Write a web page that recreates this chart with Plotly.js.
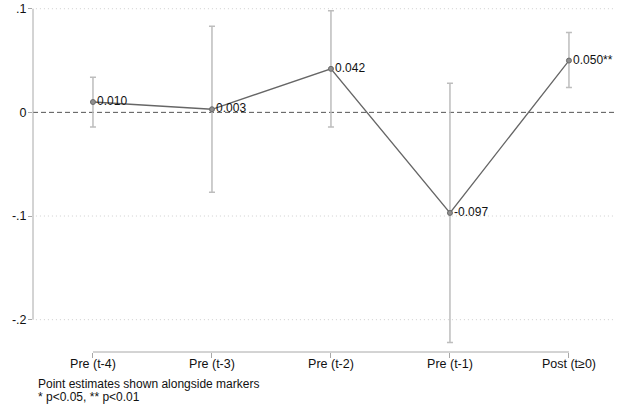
<!DOCTYPE html>
<html>
<head>
<meta charset="utf-8">
<script src="https://cdn.plot.ly/plotly-3.0.1.min.js"></script>
<style>html,body{margin:0;padding:0;background:#fff;}#chart{width:626px;height:408px;}</style>
</head>
<body>
<div id="chart"></div>
<script>
const categories = ["Pre (t-4)", "Pre (t-3)", "Pre (t-2)", "Pre (t-1)", "Post (t\u22650)"];
const estimates = [0.010, 0.003, 0.042, -0.097, 0.050];
const ciLow = [-0.014, -0.077, -0.014, -0.222, 0.024];
const ciHigh = [0.034, 0.083, 0.098, 0.028, 0.077];
const pointLabels = ["0.010", "0.003", "0.042", "-0.097", "0.050**"];
const yTickVals = [-0.2, -0.1, 0, 0.1];
const yTickText = ["-.2", "-.1", "0", ".1"];
const footnotes = ["Point estimates shown alongside markers", "* p<0.05, ** p<0.01"];

const idx = categories.map((c, i) => i);
const errPlus = estimates.map((v, i) => ciHigh[i] - v);
const errMinus = estimates.map((v, i) => v - ciLow[i]);

const font = "Arial, 'Liberation Sans', sans-serif";

const traces = [
  {
    x: idx, y: estimates, type: "scatter", mode: "markers",
    marker: {size: 1, color: "rgba(0,0,0,0)"},
    error_y: {type: "data", array: errPlus, arrayminus: errMinus, color: "#bdbdbd", thickness: 1.5, width: 3},
    hoverinfo: "skip", showlegend: false
  },
  {
    x: idx, y: estimates, type: "scatter", mode: "lines+markers+text",
    line: {color: "#666666", width: 1.3},
    marker: {size: 5, color: "#8f8f8f", line: {color: "#6a6a6a", width: 1}},
    text: pointLabels, textposition: "middle right",
    textfont: {family: font, size: 12, color: "#111111"},
    showlegend: false
  }
];

const gridShapes = yTickVals.filter(v => v !== 0).map(v => ({
  type: "line", xref: "paper", yref: "y", x0: 0.005, x1: 1, y0: v, y1: v,
  line: {color: "#cfcfcf", width: 1, dash: "1px,3px"}, layer: "below"
}));

const layout = {
  width: 626, height: 408,
  margin: {l: 33, r: 11, t: 8, b: 56},
  paper_bgcolor: "#ffffff", plot_bgcolor: "#ffffff",
  font: {family: font, size: 12, color: "#111111"},
  showlegend: false,
  xaxis: {
    range: [-0.504, 4.387],
    tickvals: idx, ticktext: categories,
    ticks: "outside", ticklen: 5, tickcolor: "#a8a8a8", tickwidth: 1,
    ticklabelstandoff: -5,
    showgrid: false, zeroline: false, showline: false,
    tickfont: {family: font, size: 12.5, color: "#111111"}
  },
  yaxis: {
    range: [-0.2312, 0.1007],
    tickvals: yTickVals, ticktext: yTickText,
    ticks: "outside", ticklen: 4, tickcolor: "#a8a8a8", tickwidth: 1,
    ticklabelstandoff: -1,
    showgrid: false, zeroline: false, showline: false,
    tickfont: {family: font, size: 12.5, color: "#111111"}
  },
  shapes: gridShapes.concat([
    {type: "line", xref: "paper", yref: "y", x0: 0, x1: 0, y0: -0.2, y1: 0.1, line: {color: "#a8a8a8", width: 1}},
    {type: "line", xref: "x", yref: "paper", x0: 0, x1: 4, y0: 0, y1: 0, line: {color: "#a8a8a8", width: 1}},
    {type: "line", xref: "paper", yref: "y", x0: 0, x1: 1, y0: 0, y1: 0, line: {color: "#555555", width: 1, dash: "5px,3px"}, layer: "below"}
  ]),
  annotations: [
    {xref: "paper", yref: "paper", x: 0.005, y: -0.093, xanchor: "left", yanchor: "middle", text: footnotes[0], showarrow: false, font: {family: font, size: 12, color: "#111111"}},
    {xref: "paper", yref: "paper", x: 0.005, y: -0.130, xanchor: "left", yanchor: "middle", text: footnotes[1], showarrow: false, font: {family: font, size: 12, color: "#111111"}}
  ]
};

Plotly.newPlot("chart", traces, layout, {displayModeBar: false, staticPlot: true});
</script>
</body>
</html>
